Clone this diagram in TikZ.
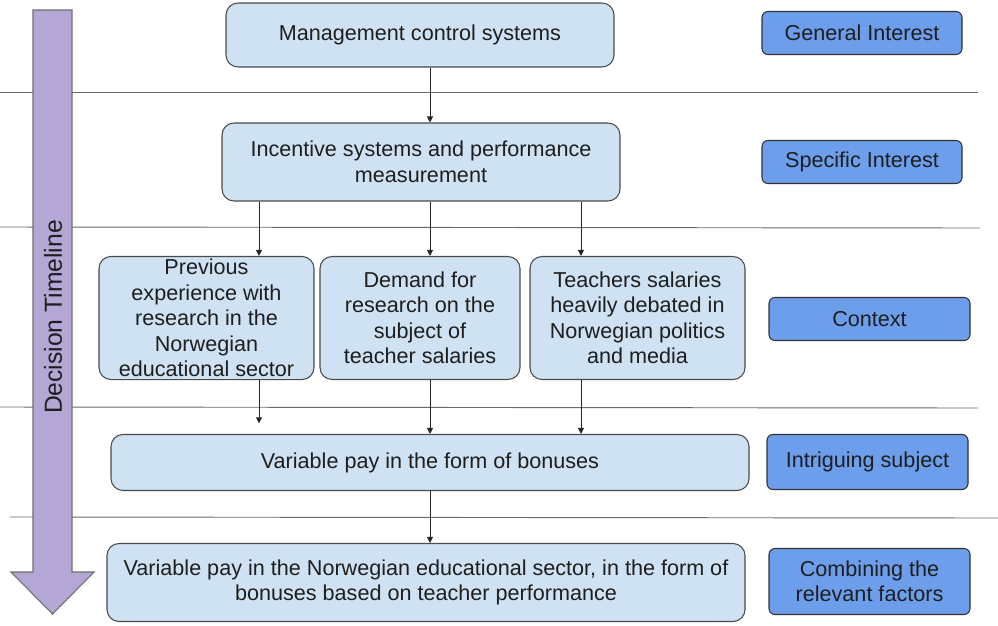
\documentclass[tikz,border=0pt]{standalone}
\usepackage{fontspec}
\setmainfont{Liberation Sans}
\usetikzlibrary{arrows.meta}
\definecolor{boxfill}{HTML}{CFE2F3}
\definecolor{boxdraw}{HTML}{4A4A4A}
\definecolor{lblfill}{HTML}{6D9EEB}
\definecolor{lbldraw}{HTML}{333333}
\definecolor{tlfill}{HTML}{B4A7D6}
\definecolor{tldraw}{HTML}{6E6E6E}
\definecolor{sepline}{HTML}{6A6A6A}
\definecolor{txt}{HTML}{1E1E1E}
\tikzset{
  mainbox/.style={draw=boxdraw, fill=boxfill, rounded corners=9pt, line width=0.8pt,
    align=center, inner sep=2pt, text=txt,
    font=\fontsize{16.2pt}{19.1pt}\selectfont},
  lblbox/.style={draw=lbldraw, fill=lblfill, rounded corners=4.5pt, line width=0.8pt,
    align=center, inner sep=2pt, text=txt, minimum width=150pt,
    font=\fontsize{16.2pt}{19.1pt}\selectfont},
  sep/.style={draw=sepline, line width=0.7pt},
  arr/.style={draw=black!85, line width=0.7pt, -{Triangle[length=4.5pt,width=4.5pt]}}
}
\begin{document}
\begin{tikzpicture}[x=0.75pt,y=-0.75pt]
\useasboundingbox (0,0) rectangle (998,625);
% separator lines
\coordinate (l1a) at (0,92);   \coordinate (l1b) at (978,92);
\coordinate (l2a) at (0,227);  \coordinate (l2b) at (980,228);
\coordinate (l3a) at (0,407);  \coordinate (l3b) at (978,408);
\coordinate (l4a) at (10,517); \coordinate (l4b) at (998,518);
\draw[sep] (l1a) -- (l1b);
\draw[sep] (l2a) -- (l2b);
\draw[sep] (l3a) -- (l3b);
\draw[sep] (l4a) -- (l4b);
% timeline arrow
\coordinate (t1) at (33,10);
\coordinate (t2) at (72,10);
\coordinate (t3) at (72,572);
\coordinate (t4) at (94,572);
\coordinate (t5) at (52.5,614);
\coordinate (t6) at (11,572);
\coordinate (t7) at (33,572);
\draw[draw=tldraw, fill=tlfill, line width=0.8pt, line join=miter] (t1) -- (t2) -- (t3) -- (t4) -- (t5) -- (t6) -- (t7) -- cycle;
\node[rotate=90, text=txt, font=\fontsize{18.5pt}{20pt}\selectfont] (tl) at (53,317) {Decision Timeline};
% main boxes
\node[mainbox, minimum width=291pt, minimum height=48pt] (mcs) at (420,35) {Management control systems};
\node[mainbox, minimum width=298.5pt, minimum height=58.5pt] (inc) at (421,162) {Incentive systems and performance\\measurement};
\node[mainbox, minimum width=161.25pt, minimum height=92.25pt] (prev) at (206.5,318) {Previous\\experience with\\research in the\\Norwegian\\educational sector};
\node[mainbox, minimum width=150pt, minimum height=92.25pt] (dem) at (420,318) {Demand for\\research on the\\subject of\\teacher salaries};
\node[mainbox, minimum width=161.25pt, minimum height=92.25pt] (tea) at (637.5,318) {Teachers salaries\\heavily debated in\\Norwegian politics\\and media};
\node[mainbox, minimum width=478.5pt, minimum height=42pt] (var) at (430,462.5) {Variable pay in the form of bonuses};
\node[mainbox, minimum width=478.5pt, minimum height=58.5pt] (bot) at (426,582.5) {Variable pay in the Norwegian educational sector, in the form of\\bonuses based on teacher performance};
% label boxes
\node[lblbox, minimum height=32.25pt] (gen) at (862,33) {General Interest};
\node[lblbox, minimum height=32.25pt] (spec) at (862,162) {Specific Interest};
\node[lblbox, minimum height=32.25pt, minimum width=150.75pt] (ctx) at (869.5,319) {Context};
\node[lblbox, minimum height=41.25pt, minimum width=150.75pt] (intr) at (867.5,462) {Intriguing subject};
\node[lblbox, minimum height=49.5pt, minimum width=150.75pt] (comb) at (869.5,581.5) {Combining the\\relevant factors};
% connector columns
\coordinate (c1) at (259,0);
\coordinate (c2) at (430,0);
\coordinate (c3) at (581,0);
\draw[arr] (mcs.south -| c2) -- (inc.north -| c2);
\draw[arr] (inc.south -| c1) -- (prev.north -| c1);
\draw[arr] (inc.south -| c2) -- (dem.north -| c2);
\draw[arr] (inc.south -| c3) -- (tea.north -| c3);
\draw[arr, shorten >=8pt] (prev.south -| c1) -- (var.north -| c1);
\draw[arr] (dem.south -| c2) -- (var.north -| c2);
\draw[arr] (tea.south -| c3) -- (var.north -| c3);
\draw[arr] (var.south -| c2) -- (bot.north -| c2);
\end{tikzpicture}
\end{document}
